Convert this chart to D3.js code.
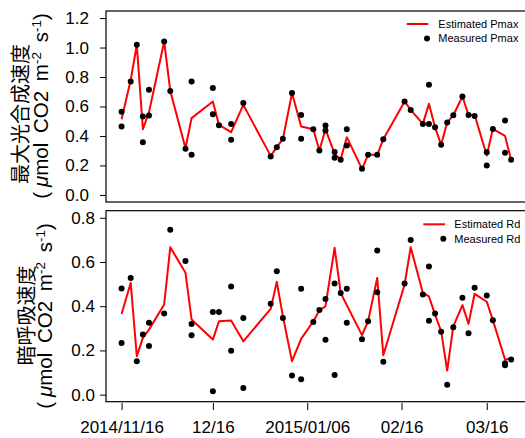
<!DOCTYPE html>
<html lang="en">
<head>
<meta charset="utf-8">
<title>Pmax / Rd</title>
<style>
  body { margin:0; background:#fff; }
  svg { display:block; }
  text { font-family: "Liberation Sans", Arial, sans-serif; fill:#000; }
  .cjk { font-family: "Noto Sans CJK JP", "Noto Sans CJK SC", sans-serif; }
</style>
<script src="https://cdnjs.cloudflare.com/ajax/libs/d3/7.8.5/d3.min.js"></script>
</head>
<body>
<div id="chart"></div>
<script>
// observation dates
var dates = ["2014-11-16","2014-11-19","2014-11-21","2014-11-23","2014-11-25","2014-11-30",
  "2014-12-02","2014-12-07","2014-12-09","2014-12-16","2014-12-18","2014-12-22","2014-12-26",
  "2015-01-04","2015-01-06","2015-01-08","2015-01-11","2015-01-14","2015-01-18","2015-01-20",
  "2015-01-22","2015-01-25","2015-01-27","2015-01-29","2015-02-03","2015-02-05","2015-02-08",
  "2015-02-10","2015-02-17","2015-02-19","2015-02-23","2015-02-25","2015-02-27","2015-03-01",
  "2015-03-03","2015-03-05","2015-03-08","2015-03-10","2015-03-12","2015-03-16","2015-03-18",
  "2015-03-22","2015-03-24"];

var pmaxEst = [0.514,0.78,1.019,0.446,0.56,1.041,0.706,0.317,0.521,0.634,0.475,0.426,0.611,
  0.265,0.324,0.378,0.691,0.464,0.446,0.301,0.446,0.278,0.242,0.392,0.177,0.272,0.272,0.378,
  0.634,0.577,0.482,0.618,0.46,0.34,0.491,0.541,0.668,0.543,0.543,0.267,0.448,0.40,0.238];
var pmaxMeas1 = [0.564,0.77,1.019,0.532,0.713,1.041,0.706,0.313,0.77,0.725,0.473,0.482,0.623,
  0.26,0.324,0.382,0.691,0.543,0.446,0.301,0.471,0.292,0.238,0.446,0.177,0.272,0.272,0.378,
  0.634,0.577,0.482,0.747,0.46,0.34,0.491,0.541,0.668,0.543,0.536,0.29,0.448,0.505,0.238];
var pmaxMeas2 = [0.464,null,null,0.358,0.539,null,null,null,0.272,0.548,null,0.374,null,
  null,null,null,null,0.382,null,null,0.437,0.253,null,0.335,null,null,null,null,
  null,null,null,0.482,null,null,null,null,null,null,null,0.199,null,0.287,null];

var rdEst = [0.365,0.506,0.174,0.257,0.294,0.408,0.667,0.551,0.34,0.249,0.332,0.335,0.241,
  0.388,0.51,0.355,0.151,0.252,0.332,0.38,0.4,0.664,0.46,0.405,0.269,0.332,0.528,0.178,
  0.498,0.667,0.46,0.444,0.362,0.287,0.109,0.309,0.405,0.32,0.456,0.42,0.337,0.159,0.163];
var rdMeas1 = [0.48,0.528,0.151,0.272,0.325,0.367,0.746,0.604,0.32,0.374,0.374,0.489,0.347,
  0.411,0.558,0.347,0.087,0.479,0.329,0.383,0.433,0.503,0.46,0.479,0.251,0.332,0.652,0.149,
  0.503,0.70,0.453,0.58,0.367,0.284,0.045,0.305,0.438,0.278,0.483,0.448,0.337,0.142,0.159];
var rdMeas2 = [0.234,null,null,null,0.22,null,null,null,0.269,0.015,null,0.199,0.03,
  null,null,null,null,0.069,null,null,0.248,0.089,null,0.325,null,null,0.463,null,
  null,null,null,0.334,null,null,null,null,null,null,null,null,null,0.133,null];

var tickDates = ["2014-11-16","2014-12-16","2015-01-16","2015-02-16","2015-03-16"];
var tickLabels = ["2014/11/16","12/16","2015/01/06","02/16","03/16"];
var pmaxTicks = [0,0.2,0.4,0.6,0.8,1.0,1.2];
var rdTicks = [0,0.2,0.4,0.6,0.8];

var W = 525, H = 438;
var parse = d3.utcParse("%Y-%m-%d");
var t0 = parse(dates[0]), t1 = parse(dates[dates.length-1]);
var pad = (t1 - t0) * 0.04;

var x = d3.scaleUtc()
  .domain([new Date(+t0 - pad), new Date(+t1 + pad)])
  .range([106, 526.7]);

var svg = d3.select("#chart").append("svg")
  .attr("width", W)
  .attr("height", H);

function panel(cfg) {
  var y = d3.scaleLinear().domain(cfg.ydom).range([cfg.bottom, cfg.top]);
  var g = svg.append("g");

  // y axis
  var ya = g.append("g")
    .attr("transform", "translate(106,0)")
    .call(d3.axisLeft(y).tickValues(cfg.ticks).tickSize(6).tickPadding(cfg.labPad)
      .tickFormat(d3.format(".1f")));
  ya.select(".domain").remove();
  ya.selectAll("line").attr("stroke", "#000");
  ya.selectAll("text").style("font-size", "17px").attr("font-family", null);

  // estimated line
  var line = d3.line()
    .x(function(d, i) { return x(parse(dates[i])); })
    .y(function(d) { return y(d); });
  g.append("path")
    .datum(cfg.est)
    .attr("d", line)
    .attr("fill", "none")
    .attr("stroke", "#ff0000")
    .attr("stroke-width", 2)
    .attr("stroke-linejoin", "round");

  // measured points
  var pts = [];
  cfg.meas.forEach(function(arr) {
    arr.forEach(function(v, i) { if (v != null) pts.push({d: dates[i], v: v}); });
  });
  g.selectAll("circle.m")
    .data(pts)
    .enter().append("circle")
    .attr("class", "m")
    .attr("cx", function(d) { return x(parse(d.d)); })
    .attr("cy", function(d) { return y(d.v); })
    .attr("r", 3)
    .attr("fill", "#000");

  // box
  g.append("rect")
    .attr("x", 106).attr("y", cfg.top)
    .attr("width", 526.7 - 106).attr("height", cfg.bottom - cfg.top)
    .attr("fill", "none").attr("stroke", "#000").attr("stroke-width", 1.2);

  // legend
  var L = cfg.leg;
  g.append("line")
    .attr("x1", L.x1).attr("x2", L.x2).attr("y1", L.y).attr("y2", L.y)
    .attr("stroke", "#ff0000").attr("stroke-width", 2);
  g.append("text").attr("x", L.tx).attr("y", L.y).attr("dy", "0.35em")
    .style("font-size", "11px").text(L.t1);
  g.append("circle").attr("cx", L.dx).attr("cy", L.y + 14.5).attr("r", 3).attr("fill", "#000");
  g.append("text").attr("x", L.tx).attr("y", L.y + 14.5).attr("dy", "0.35em")
    .style("font-size", "11px").text(L.t2);

  // y title, two lines (x = baseline after rotation)
  var t = cfg.title;
  svg.append("text").attr("class", "cjk")
    .attr("transform", "translate(" + t.x1 + "," + t.y1 + ") rotate(-90)")
    .attr("text-anchor", "middle")
    .style("font-size", "20px").text(t.name);
  var u = svg.append("text")
    .attr("transform", "translate(" + t.x2 + "," + t.y2 + ") rotate(-90)")
    .attr("text-anchor", "middle")
    .style("font-size", "20.5px")
    .style("word-spacing", "4px");
  u.append("tspan").text("(");
  u.append("tspan").attr("dx", 5).style("font-style", "italic").text("μ");
  u.append("tspan").text("mol CO2 m");
  u.append("tspan").attr("baseline-shift", "super").style("font-size", "13.5px").text("-2");
  u.append("tspan").text(" s");
  u.append("tspan").attr("baseline-shift", "super").style("font-size", "13.5px").text("-1");
  u.append("tspan").text(")");
  return y;
}

panel({
  top: 11, bottom: 202, ydom: [-0.048, 1.248], ticks: pmaxTicks, labPad: 11,
  est: pmaxEst, meas: [pmaxMeas1, pmaxMeas2],
  leg: {x1: 406.7, x2: 428.3, y: 24, tx: 438.3, dx: 427, t1: "Estimated Pmax", t2: "Measured Pmax"},
  title: {name: "最大光合成速度", x1: 28, y1: 114, x2: 48.3, y2: 106}
});

panel({
  top: 210.7, bottom: 401.7, ydom: [-0.032, 0.832], ticks: rdTicks, labPad: 5,
  est: rdEst, meas: [rdMeas1, rdMeas2],
  leg: {x1: 423.3, x2: 445, y: 224.3, tx: 454.3, dx: 443.3, t1: "Estimated Rd", t2: "Measured Rd"},
  title: {name: "暗呼吸速度", x1: 34, y1: 315.5, x2: 51.5, y2: 316}
});

// x axis (bottom panel only)
var xa = svg.append("g")
  .attr("transform", "translate(0,403)")
  .call(d3.axisBottom(x)
    .tickValues(tickDates.map(parse))
    .tickSize(7).tickPadding(11)
    .tickFormat(function(d, i) { return tickLabels[i]; }));
xa.select(".domain").remove();
xa.selectAll("line").attr("stroke", "#000");
xa.selectAll("text").style("font-size", "17px").attr("font-family", null);
</script>
</body>
</html>
